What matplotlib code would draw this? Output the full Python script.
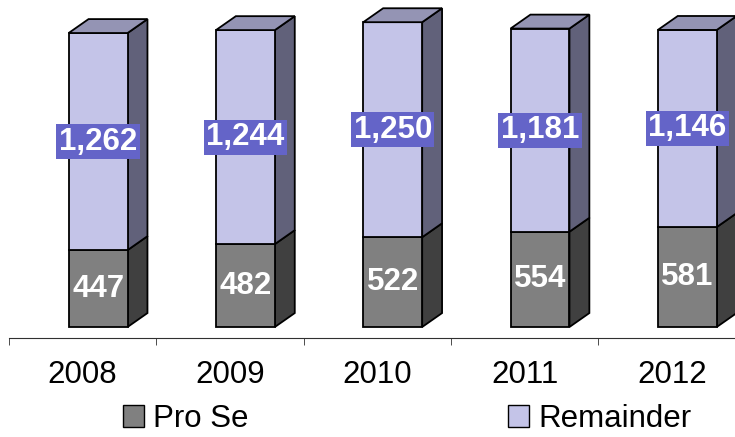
import matplotlib
matplotlib.use("Agg")
import matplotlib.pyplot as plt
from matplotlib.patches import Polygon, Patch

# data
years = ["2008", "2009", "2010", "2011", "2012"]
pro_se = [447, 482, 522, 554, 581]
remainder = [1262, 1244, 1250, 1181, 1146]

plt.rcParams["font.family"] = ["Liberation Sans", "DejaVu Sans"]

fig = plt.figure(figsize=(7.35, 4.37), dpi=100)
ax = fig.add_axes([9 / 735, 99 / 437, 726 / 735, 338 / 437])

width = 0.4
shift = 0.105      # front face sits right of the category centre
dx, dy = 0.135, 81  # 3d depth

front_cols = ["#808080", "#C4C4E8"]
side_cols = ["#404040", "#61617A"]
top_col = "#9494B4"

for i, yr in enumerate(years):
    x0 = i + shift - width / 2
    x1 = x0 + width
    segs = [(0, pro_se[i]), (pro_se[i], pro_se[i] + remainder[i])]
    for k, (b, t) in enumerate(segs):
        ax.add_patch(Polygon([(x1, b), (x1 + dx, b + dy), (x1 + dx, t + dy), (x1, t)],
                             closed=True, facecolor=side_cols[k], edgecolor="black", lw=1.3))
        ax.bar(i + shift, t - b, width, bottom=b, color=front_cols[k],
               edgecolor="black", linewidth=1.3)
    T = segs[-1][1]
    ax.add_patch(Polygon([(x0, T), (x0 + dx, T + dy), (x1 + dx, T + dy), (x1, T)],
                         closed=True, facecolor=top_col, edgecolor="black", lw=1.3))

    # labels
    ax.text(i + shift, pro_se[i] / 2, f"{pro_se[i]:,}", ha="center", va="center",
            color="white", fontsize=22.5, fontweight="bold")
    ax.text(i + shift, pro_se[i] + remainder[i] / 2, f"{remainder[i]:,}", ha="center",
            va="center", color="white", fontsize=22.5, fontweight="bold",
            bbox=dict(boxstyle="square,pad=0.08", facecolor="#6464C8", edgecolor="none"))

for s in ["top", "right", "left"]:
    ax.spines[s].set_visible(False)
ax.spines["bottom"].set_color("#303030")
ax.set_yticks([])
ax.set_xticks(range(len(years)))
ax.set_xticklabels(years, fontsize=22.5)
ax.tick_params(axis="x", which="major", length=0, pad=16)
ax.set_xticks([i - 0.5 for i in range(len(years) + 1)], minor=True)
ax.tick_params(axis="x", which="minor", length=5, color="#303030")
# limits last, set_xticks would widen them
ax.set_xlim(-0.5, -0.5 + 726 / 147.3)
ax.set_ylim(-64, 1901)

handles = [Patch(facecolor=front_cols[0], edgecolor="black", label="Pro Se"),
           Patch(facecolor=front_cols[1], edgecolor="black", label="Remainder")]
fig.legend(handles=handles, loc="center left", bbox_to_anchor=(123 / 735, 1 - 419 / 437),
           ncol=2, frameon=False, fontsize=22.5, handlelength=0.68, handleheight=0.68,
           handletextpad=0.29, columnspacing=8.3, borderpad=0, borderaxespad=0)

fig.savefig("out.png", dpi=100)
